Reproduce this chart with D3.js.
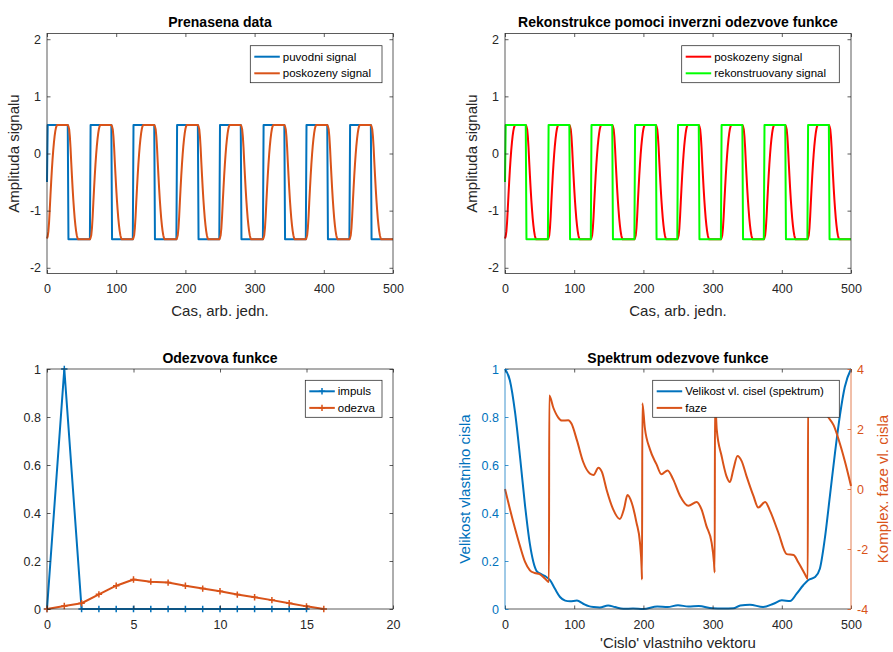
<!DOCTYPE html>
<html>
<head>
<meta charset="utf-8">
<script src="https://cdn.jsdelivr.net/npm/d3@7"></script>
<style>
body { margin: 0; background: #fff; }
text { font-family: "Liberation Sans", Arial, sans-serif; }
</style>
</head>
<body>
<svg id="chart" width="893" height="652"></svg>
<script>
// ---- data ----
// square wave (puvodni / rekonstruovany signal): edges in samples
var riseTimes = [0, 63, 125, 188, 250, 313, 375, 438];
var fallTimes = [31, 94, 156, 219, 281, 344, 406, 469];
var highLevel = 0.5, lowLevel = -1.5, startLevel = -0.5;
var sampleCount = 501; // t = 0..500

// impulse and response (Odezvova funkce)
var impulsX = [0, 1, 2, 3, 4, 5, 6, 7, 8, 9, 10, 11, 12, 13, 14, 15];
var impulsY = [0, 1, 0, 0, 0, 0, 0, 0, 0, 0, 0, 0, 0, 0, 0, 0];
var odezvaX = [0, 1, 2, 3, 4, 5, 6, 7, 8, 9, 10, 11, 12, 13, 14, 15, 16];
var odezvaY = [0, 0.0125, 0.024, 0.061, 0.097, 0.123, 0.114, 0.11, 0.097, 0.085, 0.074, 0.06, 0.049, 0.037, 0.024, 0.011, 0];

// spectrum magnitude (left axis)
var magK = [0, 7, 14.5, 22, 29, 36, 41, 46, 51, 58, 65, 72, 79.5, 87, 94, 104, 113, 121, 128, 137, 149, 159, 171, 185, 200,
  220, 235, 250, 265, 280, 300, 315, 330, 340, 354, 373, 388, 400, 412, 421.5, 431, 438, 448, 455, 462, 469.5, 477, 484, 491, 500];
var magV = [1, 0.953, 0.82, 0.626, 0.43, 0.27, 0.196, 0.157, 0.147, 0.137, 0.12, 0.085, 0.05, 0.035, 0.032, 0.035, 0.022, 0.012, 0.008, 0.006, 0.015, 0.008, 0.001, 0.002, 0,
  0.01, 0.008, 0.016, 0.01, 0.012, 0.003, 0.002, 0.003, 0.015, 0.018, 0.008, 0.022, 0.036, 0.033, 0.064, 0.099, 0.12, 0.133, 0.168, 0.29, 0.47, 0.654, 0.807, 0.925, 1];

// spectrum phase (right axis)
var phaseK = [0, 7, 14.5, 22, 29, 36, 43, 50, 58, 63.5, 64, 70, 77, 82, 91.5, 96, 104, 113, 123, 128, 135, 140, 147, 156, 166, 172, 177,
  183, 190, 195, 197.5, 198, 198.5, 202, 209.5, 219, 226, 235, 243, 253, 265, 277, 284, 291, 298.5, 302, 303, 303.5, 306, 313, 320, 325,
  330, 336, 342, 349, 359, 366, 376, 383, 395, 407, 417, 424, 433.5, 437.5, 438, 450, 458, 467, 475, 484, 492, 500];
var phaseV = [0, -0.66, -1.32, -1.93, -2.43, -2.71, -2.8, -2.84, -2.99, -3.1, 3.12, 2.7, 2.38, 2.28, 2.29, 2.18, 1.62, 0.9, 0.51, 0.47, 0.71, 0.57, -0.04, -0.66, -1.0, -0.66, -0.2,
  -0.45, -1.12, -1.78, -2.67, -3.02, 2.86, 2.05, 1.32, 0.82, 0.49, 0.62, 0.32, -0.23, -0.56, -0.43, -0.68, -1.23, -1.78, -2.45, -2.78, 3.0, 1.98, 1.1, 0.43, 0.23,
  0.65, 1.1, 0.93, 0.43, -0.23, -0.62, -0.43, -0.73, -1.45, -2.17, -2.2, -2.45, -2.84, -3.0, 3.1, 2.85, 2.75, 2.4, 2.12, 1.51, 0.85, 0.1];

// ---- derived series ----
var squareWave = [];
for (var t = 0; t < sampleCount; t++) {
  var v = lowLevel;
  for (var i = 0; i < riseTimes.length; i++) {
    if (t >= riseTimes[i] && t < fallTimes[i]) v = highLevel;
  }
  if (t === 0) v = startLevel;
  squareWave.push(v);
}
// damaged signal = circular convolution of the square wave with the response
var kernel = odezvaY.slice(1);
var kernelSum = d3.sum(kernel);
var damaged = [];
for (var t2 = 0; t2 < sampleCount; t2++) {
  var s = 0;
  for (var j = 0; j < kernel.length; j++) {
    s += kernel[j] / kernelSum * squareWave[(t2 - j + sampleCount) % sampleCount];
  }
  damaged.push(s);
}
var timeAxis = squareWave.map(function(d, i) { return i; });

// ---- drawing ----
var svg = d3.select("#chart");
var blue = "#0072BD", orange = "#D95319", red = "#FF0000", green = "#00FF00", axisCol = "#262626";
var tickLen = 3.5;

function makePanel(box, xDom, yDom) {
  var g = svg.append("g");
  var x = d3.scaleLinear().domain(xDom).range([box.x0, box.x1]);
  var y = d3.scaleLinear().domain(yDom).range([box.y1, box.y0]);
  return {g: g, x: x, y: y, box: box};
}

function styleAxis(sel, col, showLabels) {
  sel.select(".domain").remove();
  sel.selectAll(".tick line").attr("stroke", col).attr("stroke-width", 0.75);
  sel.selectAll(".tick text").attr("fill", col).attr("font-size", "12.5px")
    .style("display", showLabels ? null : "none");
}

function drawAxes(p, xTicks, yTicks, opts) {
  opts = opts || {};
  var b = p.box, g = p.g;
  var fmt = function(d) { return String(d); };
  var ax = g.append("g").attr("transform", "translate(0," + b.y1 + ")")
    .call(d3.axisBottom(p.x).tickValues(xTicks).tickFormat(fmt).tickSizeInner(-tickLen).tickSizeOuter(0).tickPadding(11));
  styleAxis(ax, axisCol, true);
  var at = g.append("g").attr("transform", "translate(0," + b.y0 + ")")
    .call(d3.axisTop(p.x).tickValues(xTicks).tickSizeInner(-tickLen).tickSizeOuter(0));
  styleAxis(at, axisCol, false);
  if (yTicks) {
    var al = g.append("g").attr("transform", "translate(" + b.x0 + ",0)")
      .call(d3.axisLeft(p.y).tickValues(yTicks).tickFormat(fmt).tickSizeInner(-tickLen).tickSizeOuter(0).tickPadding(6));
    styleAxis(al, axisCol, true);
    var ar = g.append("g").attr("transform", "translate(" + b.x1 + ",0)")
      .call(d3.axisRight(p.y).tickValues(yTicks).tickSizeInner(-tickLen).tickSizeOuter(0));
    styleAxis(ar, axisCol, false);
  }
  g.append("rect").attr("x", b.x0).attr("y", b.y0).attr("width", b.x1 - b.x0).attr("height", b.y1 - b.y0)
    .attr("fill", "none").attr("stroke", axisCol).attr("stroke-width", 0.75);
}

function title(p, txt) {
  p.g.append("text").attr("x", (p.box.x0 + p.box.x1) / 2).attr("y", p.box.y0 - 6.5)
    .attr("text-anchor", "middle").attr("font-size", "14px").attr("font-weight", "bold").attr("fill", "#000").text(txt);
}

function xLabel(p, txt, off) {
  p.g.append("text").attr("x", (p.box.x0 + p.box.x1) / 2).attr("y", p.box.y1 + (off || 42))
    .attr("text-anchor", "middle").attr("font-size", "15px").attr("fill", axisCol).text(txt);
}

function yLabel(p, txt, xPos, col) {
  var cy = (p.box.y0 + p.box.y1) / 2;
  p.g.append("text").attr("transform", "translate(" + xPos + "," + cy + ") rotate(-90)")
    .attr("text-anchor", "middle").attr("font-size", "15px").attr("fill", col || axisCol).text(txt);
}

function drawLine(p, xs, ys, col, curve, yScale) {
  var ysc = yScale || p.y;
  var pts = xs.map(function(d, i) { return [d, ys[i]]; });
  p.g.append("path").datum(pts)
    .attr("fill", "none").attr("stroke", col).attr("stroke-width", 2).attr("stroke-linejoin", "round")
    .attr("d", d3.line().x(function(d) { return p.x(d[0]); }).y(function(d) { return ysc(d[1]); }).curve(curve || d3.curveLinear));
  return pts;
}

function plusMarkers(p, pts, col) {
  p.g.append("g").selectAll("path").data(pts).join("path")
    .attr("transform", function(d) { return "translate(" + p.x(d[0]) + "," + p.y(d[1]) + ")"; })
    .attr("d", "M-3.2,0H3.2M0,-3.2V3.2").attr("stroke", col).attr("stroke-width", 1.5);
}

function legend(p, bx, by, bw, entries) {
  var g = p.g.append("g");
  g.append("rect").attr("x", bx).attr("y", by).attr("width", bw).attr("height", 37)
    .attr("fill", "#fff").attr("stroke", axisCol).attr("stroke-width", 0.75);
  entries.forEach(function(e, i) {
    var ry = by + 11 + i * 16.6;
    g.append("line").attr("x1", bx + 4).attr("x2", bx + 29.5).attr("y1", ry).attr("y2", ry)
      .attr("stroke", e.color).attr("stroke-width", 2);
    if (e.marker) {
      g.append("path").attr("transform", "translate(" + (bx + 16.7) + "," + ry + ")")
        .attr("d", "M-3.2,0H3.2M0,-3.2V3.2").attr("stroke", e.color).attr("stroke-width", 1.5);
    }
    g.append("text").attr("x", bx + 32.5).attr("y", ry).attr("dy", "0.35em")
      .attr("font-size", "11.5px").attr("fill", "#000").text(e.label);
  });
}

var signalTicksX = [0, 100, 200, 300, 400, 500];
var signalTicksY = [-2, -1, 0, 1, 2];

// Panel 1: Prenasena data
var p1 = makePanel({x0: 47, x1: 393, y0: 33.5, y1: 273.5}, [0, 500], [-2.1, 2.1]);
drawLine(p1, timeAxis, squareWave, blue);
drawLine(p1, timeAxis, damaged, orange);
drawAxes(p1, signalTicksX, signalTicksY);
title(p1, "Prenasena data");
xLabel(p1, "Cas, arb. jedn.");
yLabel(p1, "Amplituda signalu", 19);
legend(p1, 250.3, 45.7, 131.7, [{label: "puvodni signal", color: blue}, {label: "poskozeny signal", color: orange}]);

// Panel 2: Rekonstrukce
var p2 = makePanel({x0: 505, x1: 851, y0: 33.5, y1: 273.5}, [0, 500], [-2.1, 2.1]);
drawLine(p2, timeAxis, damaged, red);
drawLine(p2, timeAxis, squareWave, green);
drawAxes(p2, signalTicksX, signalTicksY);
title(p2, "Rekonstrukce pomoci inverzni odezvove funkce");
xLabel(p2, "Cas, arb. jedn.");
yLabel(p2, "Amplituda signalu", 477);
legend(p2, 681.7, 45.7, 157.6, [{label: "poskozeny signal", color: red}, {label: "rekonstruovany signal", color: green}]);

// Panel 3: Odezvova funkce
var p3 = makePanel({x0: 47, x1: 393, y0: 369, y1: 609}, [0, 20], [0, 1]);
var impPts = drawLine(p3, impulsX, impulsY, blue);
plusMarkers(p3, impPts, blue);
var odPts = drawLine(p3, odezvaX, odezvaY, orange);
plusMarkers(p3, odPts, orange);
drawAxes(p3, [0, 5, 10, 15, 20], [0, 0.2, 0.4, 0.6, 0.8, 1]);
title(p3, "Odezvova funkce");
legend(p3, 305.3, 380.3, 76.7, [{label: "impuls", color: blue, marker: true}, {label: "odezva", color: orange, marker: true}]);

// Panel 4: Spektrum (two y axes)
var p4 = makePanel({x0: 505, x1: 851, y0: 369, y1: 609}, [0, 500], [0, 1]);
var yPhase = d3.scaleLinear().domain([-4, 4]).range([609, 369]);
drawLine(p4, magK, magV, blue, d3.curveMonotoneX);
drawLine(p4, phaseK, phaseV, orange, d3.curveMonotoneX, yPhase);
(function() {
  var b = p4.box, g = p4.g, fmt = function(d) { return String(d); };
  var ax = g.append("g").attr("transform", "translate(0," + b.y1 + ")")
    .call(d3.axisBottom(p4.x).tickValues(signalTicksX).tickFormat(fmt).tickSizeInner(-tickLen).tickSizeOuter(0).tickPadding(11));
  styleAxis(ax, axisCol, true);
  var at = g.append("g").attr("transform", "translate(0," + b.y0 + ")")
    .call(d3.axisTop(p4.x).tickValues(signalTicksX).tickSizeInner(-tickLen).tickSizeOuter(0));
  styleAxis(at, axisCol, false);
  g.append("line").attr("x1", b.x0).attr("x2", b.x1).attr("y1", b.y0).attr("y2", b.y0).attr("stroke", axisCol).attr("stroke-width", 0.75);
  g.append("line").attr("x1", b.x0).attr("x2", b.x1).attr("y1", b.y1).attr("y2", b.y1).attr("stroke", axisCol).attr("stroke-width", 0.75);
  var al = g.append("g").attr("transform", "translate(" + b.x0 + ",0)")
    .call(d3.axisLeft(p4.y).tickValues([0, 0.2, 0.4, 0.6, 0.8, 1]).tickFormat(fmt).tickSizeInner(-tickLen).tickSizeOuter(0).tickPadding(6));
  styleAxis(al, blue, true);
  g.append("line").attr("x1", b.x0).attr("x2", b.x0).attr("y1", b.y0).attr("y2", b.y1).attr("stroke", blue).attr("stroke-width", 0.75);
  var ar = g.append("g").attr("transform", "translate(" + b.x1 + ",0)")
    .call(d3.axisRight(yPhase).tickValues([-4, -2, 0, 2, 4]).tickFormat(fmt).tickSizeInner(-tickLen).tickSizeOuter(0).tickPadding(6));
  styleAxis(ar, orange, true);
  g.append("line").attr("x1", b.x1).attr("x2", b.x1).attr("y1", b.y0).attr("y2", b.y1).attr("stroke", orange).attr("stroke-width", 0.75);
})();
title(p4, "Spektrum odezvove funkce");
xLabel(p4, "'Cislo' vlastniho vektoru", 39);
yLabel(p4, "Velikost vlastniho cisla", 469.5, blue);
yLabel(p4, "Komplex. faze vl. cisla", 887.5, orange);
legend(p4, 652.7, 380.3, 186.6, [{label: "Velikost vl. cisel (spektrum)", color: blue}, {label: "faze", color: orange}]);
</script>
</body>
</html>
